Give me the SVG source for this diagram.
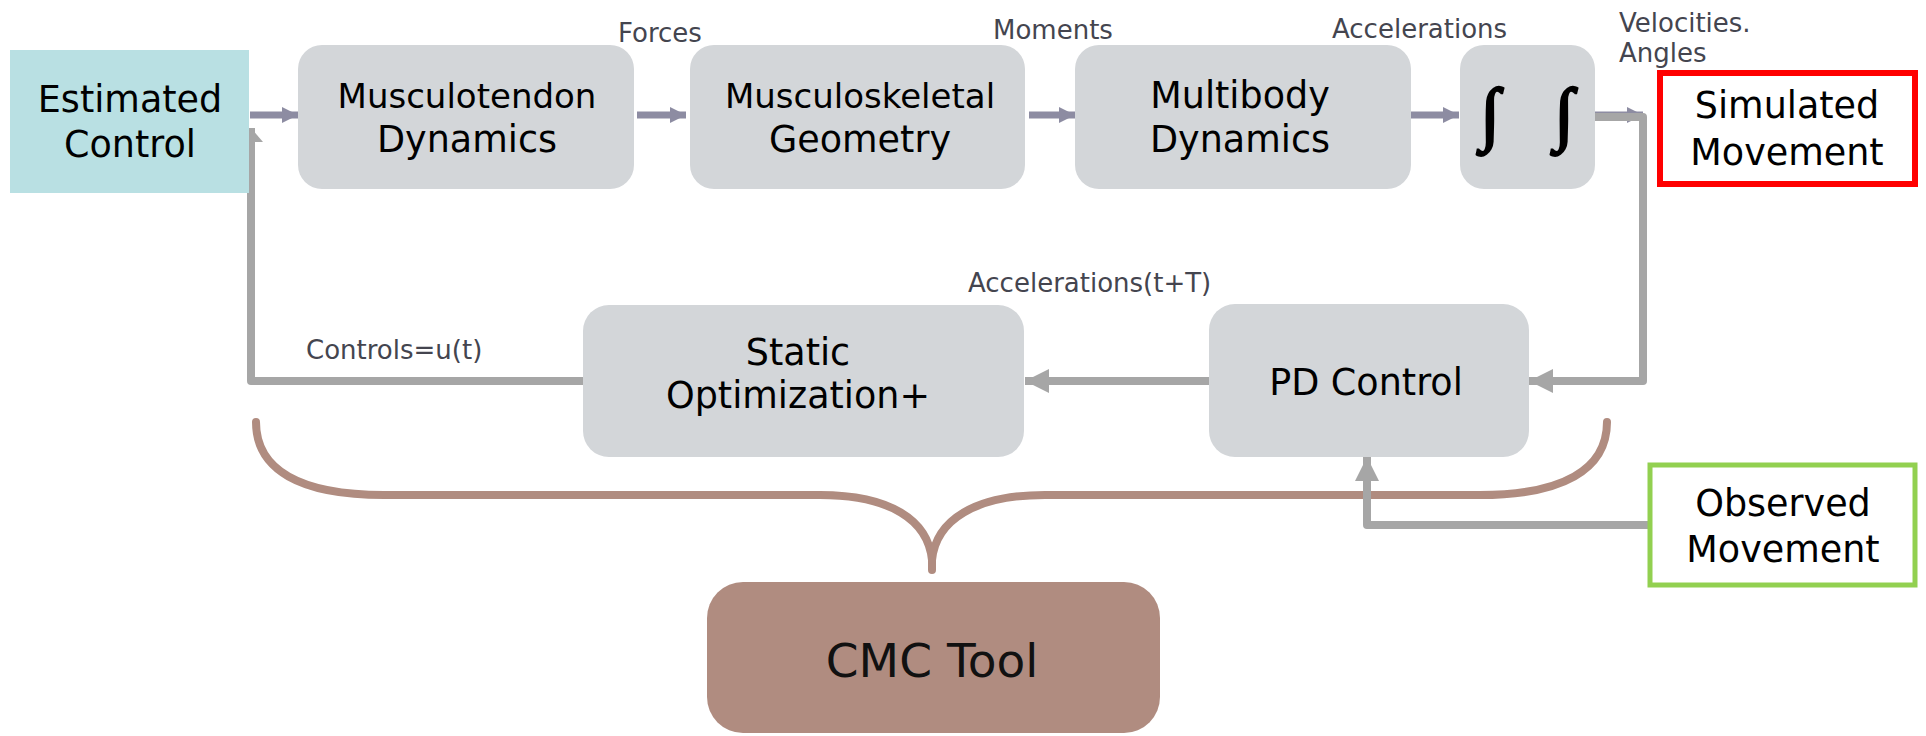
<svg xmlns="http://www.w3.org/2000/svg" width="1926" height="736" viewBox="0 0 1926 736">
<defs>
<style>
.box{fill:#d3d6d9}
.t{font-family:"DejaVu Sans",Verdana,sans-serif;font-size:36.5px;fill:#000;text-anchor:middle}
.int{font-family:"Liberation Serif","Times New Roman",serif;font-size:70px;fill:#000;stroke:#000;stroke-width:2.5;text-anchor:middle}
.lbl{font-family:"DejaVu Sans",Verdana,sans-serif;font-size:26px;fill:#44454f}
.fw{fill:none;stroke:#8d8ca2;stroke-width:7}
.fb{fill:none;stroke:#a6a6a6;stroke-width:8;stroke-linejoin:round}
.brace{fill:none;stroke:#b08c80;stroke-width:8;stroke-linecap:round}
</style>
<marker id="ap" markerUnits="userSpaceOnUse" markerWidth="18" markerHeight="18" refX="16" refY="8" orient="auto"><path d="M0,0 L16,8 L0,16 Z" fill="#8d8ca2"/></marker>
<marker id="ag" markerUnits="userSpaceOnUse" markerWidth="26" markerHeight="26" refX="24" refY="12" orient="auto"><path d="M0,0 L24,12 L0,24 Z" fill="#a6a6a6"/></marker>
<marker id="agu" markerUnits="userSpaceOnUse" markerWidth="16" markerHeight="26" refX="14" refY="12" orient="auto"><path d="M0,0 L14,12 L0,24 Z" fill="#a6a6a6"/></marker>
</defs>

<g id="connectors">
<path class="brace" d="M256,422 C256,470 300,495 384,495 L820,495 C890,495 928,520 932,560 L932,570"/>
<path class="brace" d="M1607,422 C1607,470 1562,495 1480,495 L1045,495 C975,495 936,520 932,560"/>
<line class="fw" x1="250" y1="115" x2="298" y2="115" marker-end="url(#ap)"/>
<line class="fw" x1="637" y1="115" x2="686" y2="115" marker-end="url(#ap)"/>
<line class="fw" x1="1029" y1="115" x2="1075" y2="115" marker-end="url(#ap)"/>
<line class="fw" x1="1411" y1="115" x2="1459" y2="115" marker-end="url(#ap)"/>
<line class="fw" x1="1595" y1="115" x2="1643" y2="115" marker-end="url(#ap)"/>
<polyline class="fb" points="1595,117 1643,117 1643,381 1529,381" marker-end="url(#ag)"/>
<line class="fb" x1="1209" y1="381" x2="1025" y2="381" marker-end="url(#ag)"/>
<polyline class="fb" points="583,381 251,381 251,128" marker-end="url(#agu)"/>
<polyline class="fb" points="1648,525 1367,525 1367,457" marker-end="url(#ag)"/>
</g>

<g id="estimated-control">
<rect x="10" y="50" width="239" height="143" fill="#b9e0e3"/>
<text class="t" x="130" y="112">Estimated</text>
<text class="t" x="130" y="157">Control</text>
</g>

<g id="musculotendon-dynamics">
<rect class="box" x="298" y="45" width="336" height="144" rx="24"/>
<text class="t" x="467" y="108" style="font-size:34px">Musculotendon</text>
<text class="t" x="467" y="152">Dynamics</text>
</g>

<g id="musculoskeletal-geometry">
<rect class="box" x="690" y="45" width="335" height="144" rx="24"/>
<text class="t" x="860" y="108" style="font-size:34px">Musculoskeletal</text>
<text class="t" x="860" y="152">Geometry</text>
</g>

<g id="multibody-dynamics">
<rect class="box" x="1075" y="45" width="336" height="144" rx="24"/>
<text class="t" x="1240" y="108">Multibody</text>
<text class="t" x="1240" y="152">Dynamics</text>
</g>

<g id="integrators">
<rect class="box" x="1460" y="45" width="135" height="144" rx="24"/>
<text class="int" x="1490" y="137">∫</text>
<text class="int" x="1564" y="137">∫</text>
</g>

<g id="simulated-movement">
<rect x="1660" y="73" width="255" height="111" fill="#fff" stroke="#ff0000" stroke-width="6"/>
<text class="t" x="1787" y="118">Simulated</text>
<text class="t" x="1787" y="165">Movement</text>
</g>

<g id="static-optimization">
<rect class="box" x="583" y="305" width="441" height="152" rx="26"/>
<text class="t" x="798" y="365">Static</text>
<text class="t" x="798" y="408">Optimization+</text>
</g>

<g id="pd-control">
<rect class="box" x="1209" y="304" width="320" height="153" rx="26"/>
<text class="t" x="1366" y="395">PD Control</text>
</g>

<g id="observed-movement">
<rect x="1650" y="465" width="265" height="120" fill="#fff" stroke="#92d050" stroke-width="5"/>
<text class="t" x="1783" y="516">Observed</text>
<text class="t" x="1783" y="562">Movement</text>
</g>

<g id="cmc-tool">
<rect x="707" y="582" width="453" height="151" rx="36" fill="#b08c80"/>
<text class="t" x="932" y="677" style="font-size:47px;fill:#111">CMC Tool</text>
</g>

<g id="labels">
<text class="lbl" x="618" y="42">Forces</text>
<text class="lbl" x="993" y="39">Moments</text>
<text class="lbl" x="1332" y="38">Accelerations</text>
<text class="lbl" x="1619" y="32">Velocities.</text>
<text class="lbl" x="1619" y="62">Angles</text>
<text class="lbl" x="968" y="292">Accelerations(t+T)</text>
<text class="lbl" x="306" y="359">Controls=u(t)</text>
</g>
</svg>
